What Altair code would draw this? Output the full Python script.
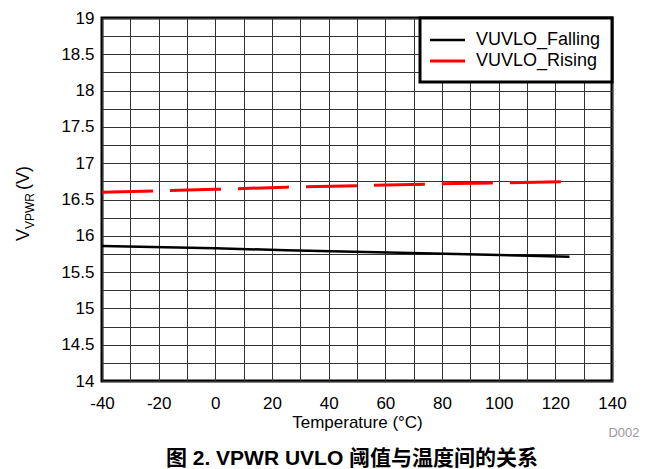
import altair as alt
import pandas as pd

# ---- data ----
temps = [-40, 0, 25, 85, 125]
vuvlo_falling = [15.86, 15.83, 15.80, 15.75, 15.71]
vuvlo_rising = [16.60, 16.64, 16.67, 16.72, 16.745]
series_names = ["VUVLO_Falling", "VUVLO_Rising"]
x_ticks = [-40, -30, -20, -10, 0, 10, 20, 30, 40, 50, 60, 70, 80, 90, 100, 110, 120, 130, 140]
y_ticks = [14, 14.25, 14.5, 14.75, 15, 15.25, 15.5, 15.75, 16, 16.25, 16.5, 16.75,
           17, 17.25, 17.5, 17.75, 18, 18.25, 18.5, 18.75, 19]
x_title = "Temperature (°C)"
caption = "图 2. VPWR UVLO 阈值与温度间的关系"
figure_id = "D002"

FONT = "Liberation Sans, Arial, Noto Sans CJK SC"
W, H = 510, 363

rows = []
for t, v in zip(temps, vuvlo_falling):
    rows.append({"t": t, "v": v, "s": series_names[0]})
for t, v in zip(temps, vuvlo_rising):
    rows.append({"t": t, "v": v, "s": series_names[1]})
df = pd.DataFrame(rows)
dummy = pd.DataFrame({"a": [0]})

x_enc = alt.X("t:Q", scale=alt.Scale(domain=[-40, 140], nice=False, zero=False),
              axis=alt.Axis(values=x_ticks,
                            labelExpr="datum.value % 20 == 0 ? '' + datum.value : ''",
                            grid=True, ticks=False, domain=False, labelFlush=False,
                            labelFontSize=17, labelPadding=14, labelColor="black",
                            labelFont=FONT, title=x_title, titleFont=FONT,
                            titleFontSize=17, titleFontWeight="normal",
                            titleColor="black", titlePadding=3))
y_enc = alt.Y("v:Q", scale=alt.Scale(domain=[14, 19], nice=False, zero=False),
              axis=alt.Axis(values=y_ticks,
                            labelExpr="datum.value % 0.5 == 0 ? '' + datum.value : ''",
                            grid=True, ticks=False, domain=False, labelFlush=False,
                            labelFontSize=17, labelPadding=8, labelColor="black",
                            labelFont=FONT, title=None))

falling = alt.Chart(df).transform_filter(
    alt.datum.s == series_names[0]).mark_line(color="black", strokeWidth=2.5).encode(x=x_enc, y=y_enc)
rising = alt.Chart(df).transform_filter(
    alt.datum.s == series_names[1]).mark_line(color="#ff0000", strokeWidth=3,
                                              strokeDash=[51, 17]).encode(x=x_enc, y=y_enc)

# legend box
leg_box = alt.Chart(dummy).mark_rect(fill="white", stroke="black", strokeWidth=3).encode(
    x=alt.value(318), x2=alt.value(510), y=alt.value(0), y2=alt.value(64))
leg_fall = alt.Chart(dummy).mark_rule(color="black", strokeWidth=2.5).encode(
    x=alt.value(328), x2=alt.value(363), y=alt.value(22))
leg_rise = alt.Chart(dummy).mark_rule(color="#ff0000", strokeWidth=3).encode(
    x=alt.value(328), x2=alt.value(363), y=alt.value(43))
leg_t1 = alt.Chart(dummy).mark_text(align="left", baseline="middle", fontSize=18,
                                    font=FONT, color="black").encode(
    x=alt.value(374), y=alt.value(22), text=alt.value(series_names[0]))
leg_t2 = alt.Chart(dummy).mark_text(align="left", baseline="middle", fontSize=18,
                                    font=FONT, color="black").encode(
    x=alt.value(374), y=alt.value(43), text=alt.value(series_names[1]))

# y-axis title with subscript
yt_v = alt.Chart(dummy).mark_text(angle=270, align="left", baseline="middle", fontSize=18,
                                  font=FONT, color="black").encode(
    x=alt.value(-78), y=alt.value(223), text=alt.value("V"))
yt_sub = alt.Chart(dummy).mark_text(angle=270, align="left", baseline="middle", fontSize=12,
                                    font=FONT, color="black").encode(
    x=alt.value(-72), y=alt.value(211), text=alt.value("VPWR"))
yt_unit = alt.Chart(dummy).mark_text(angle=270, align="left", baseline="middle", fontSize=18,
                                     font=FONT, color="black").encode(
    x=alt.value(-78), y=alt.value(172), text=alt.value("(V)"))

cap = alt.Chart(dummy).mark_text(align="center", baseline="middle", fontSize=21,
                                 fontWeight="bold", font=FONT, color="black").encode(
    x=alt.value(250), y=alt.value(441), text=alt.value(caption))
fid = alt.Chart(dummy).mark_text(align="center", baseline="middle", fontSize=13,
                                 font=FONT, color="#999999").encode(
    x=alt.value(522), y=alt.value(415), text=alt.value(figure_id))

chart = alt.layer(falling, rising, leg_box, leg_fall, leg_rise, leg_t1, leg_t2,
                  yt_v, yt_sub, yt_unit, cap, fid).properties(
    width=W, height=H,
    autosize=alt.AutoSizeParams(type="none"),
    padding={"left": 94, "top": 10, "right": 40, "bottom": 88},
    background="white",
).configure_view(stroke="black", strokeWidth=3).configure_axis(
    gridColor="#333333", gridWidth=1, gridOpacity=1)

chart.save("out.html", embed_options={"renderer": "svg", "actions": False})
